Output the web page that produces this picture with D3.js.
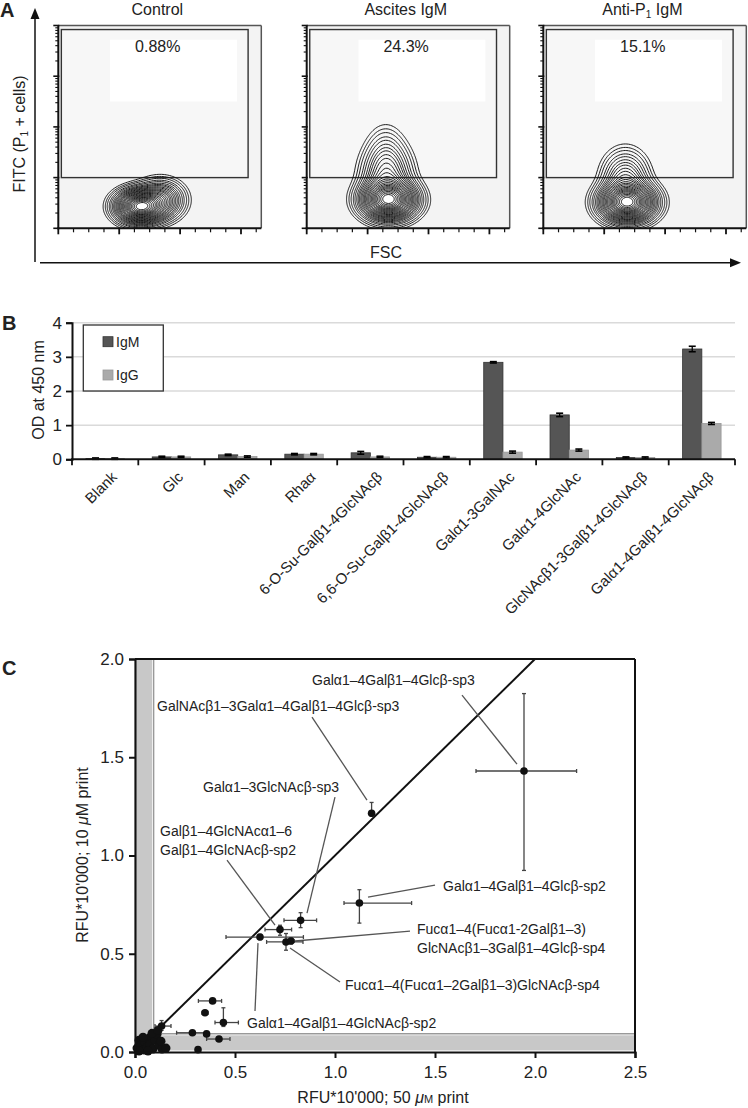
<!DOCTYPE html>
<html><head><meta charset="utf-8">
<script src="https://cdn.jsdelivr.net/npm/d3@7"></script>
<style>
body{margin:0;background:#fff}
svg{display:block}
text{font-family:"Liberation Sans",Arial,sans-serif;fill:#222}
</style>
</head><body>
<svg id="c" width="748" height="1108"></svg>
<script>
// ================= DATA =================
// ---- Panel A (flow cytometry contour plots) ----
const flowTitles = ["Control", "Ascites IgM", "Anti-P1 IgM"];
const flowPercents = ["0.88%", "24.3%", "15.1%"];
// density components: [FSC centre, FITC centre (decades), FSC spread, decade spread, weight]
const flowControl = [[400, 0.42, 62, 0.17, 1], [500, 0.55, 60, 0.2, 0.3]];
const flowAscites = [[400, 0.55, 70, 0.2, 1], [390, 1.0, 65, 0.35, 0.25], [385, 1.5, 50, 0.3, 0.05]];
const flowAntiP1 = [[410, 0.5, 70, 0.2, 1], [400, 0.95, 60, 0.3, 0.2]];
const contourLevels = [0.012, 0.02, 0.03, 0.045, 0.06, 0.08, 0.1, 0.12, 0.145, 0.17, 0.2, 0.23, 0.26, 0.3, 0.34, 0.38, 0.43, 0.48, 0.53, 0.58, 0.63, 0.68, 0.74, 0.8, 0.86, 0.92];
const gateFsc = [15, 935];
const gateDecades = [1.0, 3.92];
const fscMajorTicks = [0, 300, 600, 900];
const fscMinorTicks = [75, 150, 225, 375, 450, 525, 675, 750, 825, 975];
const fitcDecadeTicks = [0, 1, 2, 3, 4];

// ---- Panel B (bar chart) ----
const barCategories = ["Blank", "Glc", "Man", "Rhaα", "6-O-Su-Galβ1-4GlcNAcβ", "6,6-O-Su-Galβ1-4GlcNAcβ",
  "Galα1-3GalNAc", "Galα1-4GlcNAc", "GlcNAcβ1-3Galβ1-4GlcNAcβ", "Galα1-4Galβ1-4GlcNAcβ"];
const barSeries = ["IgM", "IgG"];
const igmValues = [0.02, 0.07, 0.13, 0.15, 0.19, 0.06, 2.84, 1.30, 0.05, 3.23];
const igmErrors = [0.02, 0.02, 0.02, 0.02, 0.04, 0.02, 0.02, 0.05, 0.02, 0.08];
const iggValues = [0.02, 0.07, 0.08, 0.15, 0.07, 0.06, 0.21, 0.27, 0.05, 1.05];
const iggErrors = [0.02, 0.02, 0.02, 0.02, 0.02, 0.02, 0.03, 0.03, 0.02, 0.03];
const barTicks = [0, 1, 2, 3, 4];

// ---- Panel C (scatter) ----
// [x, y, xlo, xhi, ylo, yhi]
const scatterPoints = [
  [1.945, 1.43, 1.705, 2.208, 0.924, 1.824],
  [1.183, 1.215, 1.175, 1.19, 1.20, 1.27],
  [1.122, 0.758, 1.045, 1.383, 0.656, 0.826],
  [0.828, 0.670, 0.745, 0.908, 0.633, 0.709],
  [0.725, 0.623, 0.65, 0.783, 0.594, 0.645],
  [0.625, 0.585, 0.455, 0.842, 0.572, 0.598],
  [0.755, 0.56, 0.658, 0.84, 0.518, 0.603],
  [0.78, 0.565, 0.765, 0.795, 0.55, 0.58],
  [0.388, 0.26, 0.317, 0.433, 0.25, 0.27],
  [0.35, 0.20, 0.335, 0.365, 0.19, 0.21],
  [0.442, 0.15, 0.40, 0.517, 0.13, 0.225],
  [0.287, 0.098, 0.208, 0.35, 0.09, 0.106],
  [0.358, 0.092, 0.345, 0.37, 0.085, 0.10],
  [0.42, 0.066, 0.358, 0.475, 0.06, 0.072],
  [0.315, 0.012, 0.31, 0.32, 0.005, 0.02],
  [0.133, 0.132, 0.10, 0.18, 0.11, 0.16]
];
const scatterCluster = [[0.02, 0.06], [0.01, 0.02], [0.03, 0.035], [0.045, 0.01], [0.05, 0.05], [0.06, 0.025],
  [0.07, 0.07], [0.075, 0.04], [0.09, 0.015], [0.10, 0.06], [0.11, 0.09], [0.12, 0.035], [0.135, 0.015],
  [0.155, 0.02], [0.04, 0.075], [0.085, 0.095], [0.115, 0.11], [0.02, 0.005], [0.065, 0.005], [0.13, 0.055]];
// labels: lines, text start (x,y data), leader from (data), leader to (data)
const scatterLabels = [
  {lines: ["Galα1–4Galβ1–4Glcβ-sp3"], at: [0.885, 1.892], from: [1.635, 1.816], to: [1.91, 1.465]},
  {lines: ["GalNAcβ1–3Galα1–4Galβ1–4Glcβ-sp3"], at: [0.11, 1.76], from: [0.885, 1.704], to: [1.16, 1.282]},
  {lines: ["Galα1–3GlcNAcβ-sp3"], at: [0.34, 1.348], from: [1.0, 1.297], to: [0.86, 0.707]},
  {lines: ["Galβ1–4GlcNAcα1–6", "Galβ1–4GlcNAcβ-sp2"], at: [0.125, 1.124], from: [0.46, 0.977], to: [0.70, 0.646]},
  {lines: ["Galα1–4Galβ1–4Glcβ-sp2"], at: [1.54, 0.844], from: [1.5, 0.849], to: [1.165, 0.788]},
  {lines: ["Fucα1–4(Fucα1-2Galβ1–3)", "GlcNAcβ1–3Galβ1–4Glcβ-sp4"], at: [1.41, 0.626], from: [1.375, 0.615], to: [0.80, 0.565]},
  {lines: ["Fucα1–4(Fucα1–2Galβ1–3)GlcNAcβ-sp4"], at: [1.05, 0.341], from: [1.025, 0.356], to: [0.775, 0.529]},
  {lines: ["Galα1–4Galβ1–4GlcNAcβ-sp2"], at: [0.56, 0.148], from: [0.60, 0.209], to: [0.615, 0.554]}
];
const scatterTicksX = [0, 0.5, 1.0, 1.5, 2.0, 2.5];
const scatterTicksY = [0, 0.5, 1.0, 1.5, 2.0];
const gateCutoff = 0.085;

// ================= DRAW =================
const svg = d3.select("#c");
const defs = svg.append("defs");

// ---------- Panel A ----------
const aTop = 25.5, aBot = 228.3, aW = 203;
const aLefts = [58.3, 306.7, 543.3];
const blobsAll = [flowControl, flowAscites, flowAntiP1];
const dec = d3.scaleLinear().domain([0, 4]).range([aBot, aTop]);
const fitcLog = d3.scaleLog().domain([1, 1e4]).range([aBot, aTop]);

svg.append("text").attr("x", 0).attr("y", 17).attr("font-size", 20).attr("font-weight", "bold").text("A");

blobsAll.forEach((blobs, i) => {
  const L = aLefts[i];
  const x = d3.scaleLinear().domain([0, 1000]).range([L, L + aW]);
  const g = svg.append("g");
  defs.append("clipPath").attr("id", "clipA" + i).append("rect")
    .attr("x", L).attr("y", aTop).attr("width", aW).attr("height", aBot - aTop);
  g.append("rect").attr("x", L).attr("y", aTop).attr("width", aW).attr("height", aBot - aTop).attr("fill", "#f3f3f3");
  // gate
  g.append("rect").attr("x", x(gateFsc[0])).attr("y", dec(gateDecades[1]))
    .attr("width", x(gateFsc[1]) - x(gateFsc[0])).attr("height", dec(gateDecades[0]) - dec(gateDecades[1]))
    .attr("fill", "#f7f7f7").attr("stroke", "#333").attr("stroke-width", 1.4);
  g.append("rect").attr("x", x(gateFsc[0] + 240)).attr("y", dec(3.72))
    .attr("width", x(880) - x(gateFsc[0] + 240)).attr("height", dec(2.5) - dec(3.72)).attr("fill", "#fff");

  // density grid
  const gx0 = 0, gdx = 8, gy0 = -0.6, gdy = 0.02;
  const nx = Math.round(1000 / gdx) + 1, ny = Math.round((4 - gy0) / gdy) + 1;
  const vals = new Array(nx * ny);
  let peak = 0;
  for (let j = 0; j < ny; j++) for (let k = 0; k < nx; k++) {
    const fx = gx0 + k * gdx, fy = gy0 + j * gdy;
    let v = 0;
    blobs.forEach(b => { v += b[4] * Math.exp(-((fx - b[0]) ** 2) / (2 * b[2] * b[2]) - ((fy - b[1]) ** 2) / (2 * b[3] * b[3])); });
    vals[j * nx + k] = v; if (v > peak) peak = v;
  }
  const cs = d3.contours().size([nx, ny]).thresholds(contourLevels.map(l => l * peak))(vals);
  const proj = d3.geoTransform({point: function (px, py) { this.stream.point(x(gx0 + px * gdx), dec(gy0 + py * gdy)); }});
  const path = d3.geoPath(proj);
  g.append("g").attr("clip-path", "url(#clipA" + i + ")")
    .selectAll("path").data(cs).join("path")
    .attr("d", path)
    .attr("fill", (d, k) => k === cs.length - 1 ? "#fff" : "none")
    .attr("stroke", "#111").attr("stroke-width", 0.95);

  // frame
  g.append("line").attr("x1", L).attr("x2", L + aW).attr("y1", aTop).attr("y2", aTop).attr("stroke", "#555").attr("stroke-width", 1.5);
  g.append("line").attr("x1", L + aW).attr("x2", L + aW).attr("y1", aTop).attr("y2", aBot).attr("stroke", "#555").attr("stroke-width", 1.5);
  g.append("line").attr("x1", L).attr("x2", L).attr("y1", aTop).attr("y2", aBot + 1).attr("stroke", "#111").attr("stroke-width", 2);
  g.append("line").attr("x1", L - 1).attr("x2", L + aW).attr("y1", aBot).attr("y2", aBot).attr("stroke", "#111").attr("stroke-width", 2);
  // y ticks (log)
  fitcDecadeTicks.forEach(d => {
    g.append("line").attr("x1", L - 5).attr("x2", L + 1).attr("y1", fitcLog(Math.pow(10, d))).attr("y2", fitcLog(Math.pow(10, d))).attr("stroke", "#111").attr("stroke-width", 1.6);
    if (d < 4) for (let m = 2; m <= 9; m++) {
      const yy = fitcLog(m * Math.pow(10, d));
      g.append("line").attr("x1", L - 3).attr("x2", L).attr("y1", yy).attr("y2", yy).attr("stroke", "#111").attr("stroke-width", 1.1);
    }
  });
  fscMajorTicks.forEach(t => g.append("line").attr("x1", x(t)).attr("x2", x(t)).attr("y1", aBot).attr("y2", aBot + 6).attr("stroke", "#111").attr("stroke-width", 1.8));
  fscMinorTicks.forEach(t => g.append("line").attr("x1", x(t)).attr("x2", x(t)).attr("y1", aBot).attr("y2", aBot + 4).attr("stroke", "#111").attr("stroke-width", 1.2));

  // texts
  const title = g.append("text").attr("x", x(488)).attr("y", 15).attr("text-anchor", "middle").attr("font-size", 16);
  if (i === 2) {
    title.append("tspan").text("Anti-P");
    title.append("tspan").attr("font-size", 10).attr("dy", 3).text("1");
    title.append("tspan").attr("dy", -3).text(" IgM");
  } else title.text(flowTitles[i]);
  g.append("text").attr("x", x(490)).attr("y", 52).attr("text-anchor", "middle").attr("font-size", 16).text(flowPercents[i]);
});

// big arrows
svg.append("line").attr("x1", 35).attr("x2", 35).attr("y1", 262).attr("y2", 16).attr("stroke", "#111").attr("stroke-width", 1.5);
svg.append("path").attr("d", "M35,8 L30.5,19 L39.5,19 Z").attr("fill", "#111");
svg.append("line").attr("x1", 40).attr("x2", 733).attr("y1", 262.7).attr("y2", 262.7).attr("stroke", "#111").attr("stroke-width", 1.5);
svg.append("path").attr("d", "M741,262.7 L730,258.2 L730,267.2 Z").attr("fill", "#111");
const fitcLab = svg.append("text").attr("transform", "translate(25,134) rotate(-90)").attr("text-anchor", "middle").attr("font-size", 16);
fitcLab.append("tspan").text("FITC (P");
fitcLab.append("tspan").attr("font-size", 10).attr("dy", 3).text("1");
fitcLab.append("tspan").attr("dy", -3).text(" + cells)");
svg.append("text").attr("x", 386).attr("y", 258).attr("text-anchor", "middle").attr("font-size", 16).text("FSC");

// ---------- Panel B ----------
const bx = d3.scaleBand().domain(barCategories).range([72, 735]);
const by = d3.scaleLinear().domain([0, 4]).range([459.3, 322.7]);
const bw = bx.bandwidth();
const sub = d3.scaleBand().domain(barSeries).range([bw * 0.21, bw * 0.79]);
const gB = svg.append("g");
gB.append("text").attr("x", 2).attr("y", 330).attr("font-size", 20).attr("font-weight", "bold").text("B");
barTicks.filter(t => t > 0).forEach(t => gB.append("line").attr("x1", 72).attr("x2", 735).attr("y1", by(t)).attr("y2", by(t)).attr("stroke", "#dadada").attr("stroke-width", 1.5));
const seriesVals = {IgM: [igmValues, igmErrors, "#555", "#333"], IgG: [iggValues, iggErrors, "#aaa", "#999"]};
barSeries.forEach(s => {
  const [vals, errs, fill, stroke] = seriesVals[s];
  barCategories.forEach((c, i) => {
    const x0 = bx(c) + sub(s);
    gB.append("rect").attr("x", x0).attr("y", by(vals[i])).attr("width", sub.bandwidth()).attr("height", by(0) - by(vals[i]))
      .attr("fill", fill).attr("stroke", stroke).attr("stroke-width", 0.8);
  });
});
barSeries.forEach(s => {
  const [vals, errs] = seriesVals[s];
  barCategories.forEach((c, i) => {
    const cx = bx(c) + sub(s) + sub.bandwidth() / 2;
    const y1 = by(vals[i] + errs[i]), y2 = by(Math.max(0, vals[i] - errs[i]));
    gB.append("line").attr("x1", cx).attr("x2", cx).attr("y1", y1).attr("y2", y2).attr("stroke", "#000").attr("stroke-width", 1.3);
    [y1, y2].forEach(yy => gB.append("line").attr("x1", cx - 3.5).attr("x2", cx + 3.5).attr("y1", yy).attr("y2", yy).attr("stroke", "#000").attr("stroke-width", 1.6));
  });
});
const yAxB = gB.append("g").attr("transform", "translate(72,0)")
  .call(d3.axisLeft(by).tickValues(barTicks).tickFormat(d3.format("d")).tickSize(6).tickPadding(4));
yAxB.select(".domain").attr("stroke", "#111").attr("stroke-width", 2);
yAxB.selectAll(".tick line").attr("stroke", "#111").attr("stroke-width", 1.8);
yAxB.selectAll(".tick text").attr("font-size", 17).attr("font-family", null).attr("fill", "#222");
gB.append("line").attr("x1", 71).attr("x2", 735).attr("y1", by(0)).attr("y2", by(0)).attr("stroke", "#111").attr("stroke-width", 2);
const edges = barCategories.map(c => bx(c)).concat([bx.range()[1]]);
edges.forEach(ex => gB.append("line").attr("x1", ex).attr("x2", ex).attr("y1", by(0)).attr("y2", by(0) + 6).attr("stroke", "#111").attr("stroke-width", 1.8));
barCategories.forEach(c => {
  gB.append("text").attr("transform", `translate(${bx(c) + bw / 2 + 9},${by(0) + 15}) rotate(-45)`)
    .attr("text-anchor", "end").attr("font-size", 15).attr("dy", "0.35em").text(c);
});
gB.append("text").attr("transform", "translate(44,390) rotate(-90)").attr("text-anchor", "middle").attr("font-size", 16).text("OD at 450 nm");
// legend
gB.append("rect").attr("x", 83.3).attr("y", 325).attr("width", 80).attr("height", 66).attr("fill", "#fff").attr("stroke", "#333").attr("stroke-width", 1.3);
barSeries.forEach((s, i) => {
  const cy = 341.7 + i * 33.3;
  gB.append("rect").attr("x", 103).attr("y", cy - 5).attr("width", 10).attr("height", 10).attr("fill", seriesVals[s][2]).attr("stroke", seriesVals[s][3]).attr("stroke-width", 0.8);
  gB.append("text").attr("x", 116).attr("y", cy).attr("dy", "0.35em").attr("font-size", 14).text(s);
});

// ---------- Panel C ----------
const cx = d3.scaleLinear().domain([0, 2.5]).range([135, 635]);
const cy = d3.scaleLinear().domain([0, 2]).range([1052, 659]);
const gC = svg.append("g");
gC.append("text").attr("x", 2).attr("y", 675).attr("font-size", 20).attr("font-weight", "bold").text("C");
// gray gating bands
gC.append("rect").attr("x", cx(0.008)).attr("y", cy(2)).attr("width", cx(gateCutoff) - cx(0.008)).attr("height", cy(0) - cy(2)).attr("fill", "#c8c8c8");
gC.append("rect").attr("x", cx(0)).attr("y", cy(gateCutoff)).attr("width", cx(2.5) - cx(0)).attr("height", cy(0.008) - cy(gateCutoff)).attr("fill", "#c8c8c8");
gC.append("line").attr("x1", cx(gateCutoff + 0.008)).attr("x2", cx(gateCutoff + 0.008)).attr("y1", cy(2)).attr("y2", cy(gateCutoff + 0.008)).attr("stroke", "#999").attr("stroke-width", 1.5);
gC.append("line").attr("x1", cx(gateCutoff + 0.008)).attr("x2", cx(2.5)).attr("y1", cy(gateCutoff + 0.008)).attr("y2", cy(gateCutoff + 0.008)).attr("stroke", "#999").attr("stroke-width", 1.5);
// identity line
gC.append("line").attr("x1", cx(0.09)).attr("y1", cy(0.09)).attr("x2", cx(2)).attr("y2", cy(2)).attr("stroke", "#111").attr("stroke-width", 2);
// frame
gC.append("line").attr("x1", cx(0)).attr("x2", cx(2.5)).attr("y1", cy(2)).attr("y2", cy(2)).attr("stroke", "#111").attr("stroke-width", 2);
gC.append("line").attr("x1", cx(2.5)).attr("x2", cx(2.5)).attr("y1", cy(2)).attr("y2", cy(0)).attr("stroke", "#111").attr("stroke-width", 2);
// leaders
scatterLabels.forEach(l => {
  gC.append("line").attr("x1", cx(l.from[0])).attr("y1", cy(l.from[1])).attr("x2", cx(l.to[0])).attr("y2", cy(l.to[1]))
    .attr("stroke", "#555").attr("stroke-width", 1.3);
});
// error bars
scatterPoints.forEach(p => {
  const [x, y, xlo, xhi, ylo, yhi] = p;
  gC.append("line").attr("x1", cx(xlo)).attr("x2", cx(xhi)).attr("y1", cy(y)).attr("y2", cy(y)).attr("stroke", "#444").attr("stroke-width", 1.3);
  gC.append("line").attr("x1", cx(x)).attr("x2", cx(x)).attr("y1", cy(ylo)).attr("y2", cy(yhi)).attr("stroke", "#444").attr("stroke-width", 1.3);
  [xlo, xhi].forEach(v => gC.append("line").attr("x1", cx(v)).attr("x2", cx(v)).attr("y1", cy(y) - 2).attr("y2", cy(y) + 2).attr("stroke", "#444").attr("stroke-width", 1.3));
  [ylo, yhi].forEach(v => gC.append("line").attr("x1", cx(x) - 2).attr("x2", cx(x) + 2).attr("y1", cy(v)).attr("y2", cy(v)).attr("stroke", "#444").attr("stroke-width", 1.3));
});
gC.selectAll("circle.pt").data(scatterPoints).join("circle").attr("class", "pt")
  .attr("cx", d => cx(d[0])).attr("cy", d => cy(d[1])).attr("r", 3.8).attr("fill", "#111");
gC.selectAll("circle.cl").data(scatterCluster).join("circle").attr("class", "cl")
  .attr("cx", d => cx(d[0])).attr("cy", d => cy(d[1])).attr("r", 4.5).attr("fill", "#111");
// labels
scatterLabels.forEach(l => {
  l.lines.forEach((ln, k) => {
    gC.append("text").attr("x", cx(l.at[0])).attr("y", cy(l.at[1]) + k * 19).attr("dy", "0.35em").attr("font-size", 14).attr("fill", "#333").text(ln);
  });
});
// axes
const yAxC = gC.append("g").attr("transform", `translate(${cx(0)},0)`)
  .call(d3.axisLeft(cy).tickValues(scatterTicksY).tickFormat(d3.format(".1f")).tickSize(6).tickPadding(5));
const xAxC = gC.append("g").attr("transform", `translate(0,${cy(0)})`)
  .call(d3.axisBottom(cx).tickValues(scatterTicksX).tickFormat(d3.format(".1f")).tickSize(6).tickPadding(8));
[yAxC, xAxC].forEach(a => {
  a.select(".domain").attr("stroke", "#111").attr("stroke-width", 2.2);
  a.selectAll(".tick line").attr("stroke", "#111").attr("stroke-width", 2);
  a.selectAll(".tick text").attr("font-size", 17).attr("font-family", null).attr("fill", "#222");
});
const xl = gC.append("text").attr("x", 383).attr("y", 1103).attr("text-anchor", "middle").attr("font-size", 16);
xl.append("tspan").text("RFU*10'000; 50 ");
xl.append("tspan").attr("font-style", "italic").text("μ");
xl.append("tspan").attr("font-size", 11).text("M");
xl.append("tspan").text(" print");
const yl = gC.append("text").attr("transform", "translate(88,855) rotate(-90)").attr("text-anchor", "middle").attr("font-size", 16);
yl.append("tspan").text("RFU*10'000; 10 ");
yl.append("tspan").attr("font-style", "italic").text("μ");
yl.append("tspan").text("M print");
</script>
</body></html>
